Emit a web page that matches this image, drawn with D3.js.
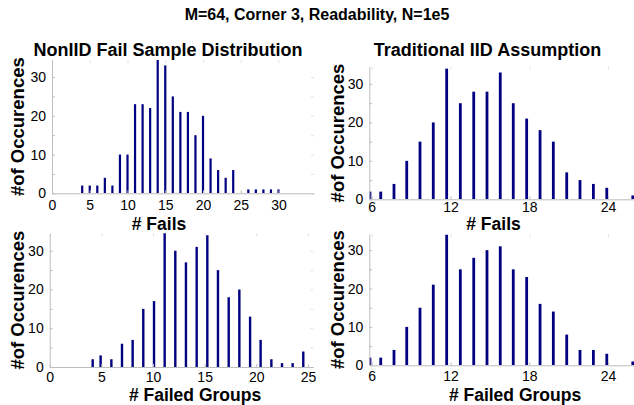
<!DOCTYPE html>
<html>
<head>
<meta charset="utf-8">
<script src="https://cdn.jsdelivr.net/npm/d3@7"></script>
<style>
  html, body { margin: 0; padding: 0; background: #fff; }
  svg { display: block; font-family: Arial, "Liberation Sans", Helvetica, sans-serif; }
</style>
</head>
<body>
<svg id="chart" width="634" height="405"></svg>
<script>
// Non-IID fail-count histogram (bins = number of fails)
const nonIidFailBins   = [4, 5, 6, 7, 8, 9, 10, 11, 12, 13, 14, 15, 16, 17, 18, 19, 20, 21, 22, 23, 24, 26, 27, 28, 29, 30];
const nonIidFailCounts = [2, 2, 2, 4, 2, 10, 10, 23, 23, 22, 35, 33, 25, 21, 21, 15, 20, 9, 6, 4, 6, 1, 1, 1, 1, 1];

// IID assumption: fail-count histogram (bin centres)
const iidFailBins   = [5.87, 6.69, 7.70, 8.67, 9.68, 10.69, 11.71, 12.75, 13.77, 14.78, 15.79, 16.78, 17.80, 18.82, 19.83, 20.85, 21.86, 22.88, 23.90, 25.88];
const iidFailCounts = [2, 2, 4, 10, 15, 20, 34, 25, 28, 28, 33, 25, 21, 18, 15, 7, 5, 4, 3, 1];

// Non-IID failed-group histogram (bin centres)
const nonIidGroupBins   = [4.16, 4.93, 5.97, 7.00, 8.03, 9.06, 10.10, 11.13, 12.16, 13.19, 14.23, 15.26, 16.29, 17.33, 18.36, 19.40, 20.42, 21.46, 22.49, 23.52, 24.55];
const nonIidGroupCounts = [2, 3, 2, 6, 7, 15, 17, 35, 30, 27, 31, 34, 25, 18, 20, 13, 7, 2, 1, 1, 4];

// IID assumption: failed-group histogram (bin centres)
const iidGroupBins   = [5.87, 6.69, 7.70, 8.67, 9.68, 10.69, 11.71, 12.75, 13.77, 14.78, 15.79, 16.78, 17.80, 18.82, 19.83, 20.85, 21.86, 22.88, 23.90, 25.88];
const iidGroupCounts = [2, 2, 4, 10, 15, 21, 34, 25, 28, 30, 31, 25, 23, 16, 14, 8, 4, 4, 3, 1];

// Axis tick values
const nonIidFailTicks  = [0, 5, 10, 15, 20, 25, 30];
const nonIidGroupTicks = [0, 5, 10, 15, 20, 25];
const iidTicks         = [6, 12, 18, 24];
const countTicks       = [0, 5, 10, 15, 20, 25, 30];

const mainTitle = "M=64, Corner 3, Readability, N=1e5";
const countLabel = "#of Occurences";

const svg = d3.select("#chart");
const BAR_COLOR = "#000080";
const AXIS_COLOR = "#bdbdbd";
const FAINT_COLOR = "#e3e3e3";

svg.append("text")
  .attr("x", 317).attr("y", 20)
  .attr("text-anchor", "middle")
  .attr("font-size", 16).attr("font-weight", "bold")
  .text(mainTitle);

const panels = [
  { id: "p1", bins: nonIidFailBins, counts: nonIidFailCounts, ticks: nonIidFailTicks,
    xDom: [0, 34.7], xRange: [52, 314], yMax: 34.4, yRange: [193.3, 60], barW: 2.2, pad: 7,
    title: "NonIID Fail Sample Distribution", titleX: 168, titleY: 56,
    xLabel: "# Fails", xLabelX: 159, xLabelY: 229.5, labelSize: 17.5, yLabelX: 17.5 },
  { id: "p2", bins: iidFailBins, counts: iidFailCounts, ticks: iidTicks,
    xDom: [5.82, 26.2], xRange: [369.3, 637], yMax: 34.5, yRange: [199.3, 66.7], barW: 2.8, pad: 3,
    title: "Traditional IID Assumption", titleX: 487.5, titleY: 56,
    xLabel: "# Fails", xLabelX: 493.5, xLabelY: 229.5, labelSize: 17.5, yLabelX: 337.5 },
  { id: "p3", bins: nonIidGroupBins, counts: nonIidGroupCounts, ticks: nonIidGroupTicks,
    xDom: [0, 25.52], xRange: [49.7, 313.3], yMax: 34.5, yRange: [367, 233.3], barW: 2.4, pad: 5,
    title: null,
    xLabel: "# Failed Groups", xLabelX: 195, xLabelY: 401, labelSize: 17.5, yLabelX: 17.5 },
  { id: "p4", bins: iidGroupBins, counts: iidGroupCounts, ticks: iidTicks,
    xDom: [5.82, 26.2], xRange: [369.3, 637], yMax: 34.2, yRange: [365.3, 234], barW: 2.8, pad: 6,
    title: null,
    xLabel: "# Failed Groups", xLabelX: 515, xLabelY: 401, labelSize: 17.5, yLabelX: 337.5 }
];

const defs = svg.append("defs");

panels.forEach(p => {
  const x = d3.scaleLinear().domain(p.xDom).range(p.xRange);
  const y = d3.scaleLinear().domain([0, p.yMax]).range(p.yRange);
  const [x0, x1] = p.xRange;
  const [yb, yt] = p.yRange;

  defs.append("clipPath").attr("id", "clip-" + p.id)
    .append("rect").attr("x", x0).attr("y", yt).attr("width", x1 - x0).attr("height", yb - yt);

  const g = svg.append("g");

  // faint box ticks along the top and right edges
  g.append("g").attr("transform", `translate(0,${yt})`)
    .call(d3.axisTop(x).tickValues(p.ticks).tickSize(-3).tickFormat(""))
    .call(s => s.select(".domain").remove())
    .call(s => s.selectAll("line").attr("stroke", FAINT_COLOR));
  g.append("g").attr("transform", `translate(${x1},0)`)
    .call(d3.axisRight(y).tickValues(countTicks).tickSize(-3).tickFormat(""))
    .call(s => s.select(".domain").remove())
    .call(s => s.selectAll("line").attr("stroke", FAINT_COLOR));

  // bars
  const data = p.bins.map((b, i) => ({ b, c: p.counts[i] }));
  g.append("g").attr("clip-path", `url(#clip-${p.id})`)
    .selectAll("rect").data(data).join("rect")
    .attr("x", d => x(d.b) - p.barW / 2)
    .attr("width", p.barW)
    .attr("y", d => y(d.c))
    .attr("height", d => y(0) - y(d.c))
    .attr("fill", BAR_COLOR);

  // left axis
  g.append("g").attr("transform", `translate(${x0},0)`)
    .call(d3.axisLeft(y).tickValues(countTicks).tickSizeInner(-3).tickSizeOuter(0).tickPadding(6)
      .tickFormat(d => d % 10 === 0 ? d : ""))
    .call(s => s.select(".domain").attr("stroke", AXIS_COLOR))
    .call(s => s.selectAll("line").attr("stroke", AXIS_COLOR))
    .call(s => s.selectAll("text").attr("font-size", 14).attr("fill", "#000")
      .attr("font-family", "Arial, 'Liberation Sans', sans-serif"));

  // bottom axis
  g.append("g").attr("transform", `translate(0,${yb})`)
    .call(d3.axisBottom(x).tickValues(p.ticks).tickSizeInner(-3).tickSizeOuter(0).tickPadding(p.pad))
    .call(s => s.select(".domain").attr("stroke", AXIS_COLOR))
    .call(s => s.selectAll("line").attr("stroke", AXIS_COLOR))
    .call(s => s.selectAll("text").attr("font-size", 14).attr("fill", "#000")
      .attr("font-family", "Arial, 'Liberation Sans', sans-serif"));

  if (p.title) {
    svg.append("text")
      .attr("x", p.titleX).attr("y", p.titleY)
      .attr("text-anchor", "middle")
      .attr("font-size", 18).attr("font-weight", "bold")
      .text(p.title);
  }

  svg.append("text")
    .attr("x", p.xLabelX).attr("y", p.xLabelY)
    .attr("text-anchor", "middle")
    .attr("font-size", p.labelSize).attr("font-weight", "bold")
    .text(p.xLabel);

  svg.append("text")
    .attr("transform", `translate(${p.yLabelX},${(yb + yt) / 2}) rotate(-90)`)
    .attr("dy", "0.35em")
    .attr("text-anchor", "middle")
    .attr("font-size", 18.5).attr("font-weight", "bold")
    .text(countLabel);
});
</script>
</body>
</html>
